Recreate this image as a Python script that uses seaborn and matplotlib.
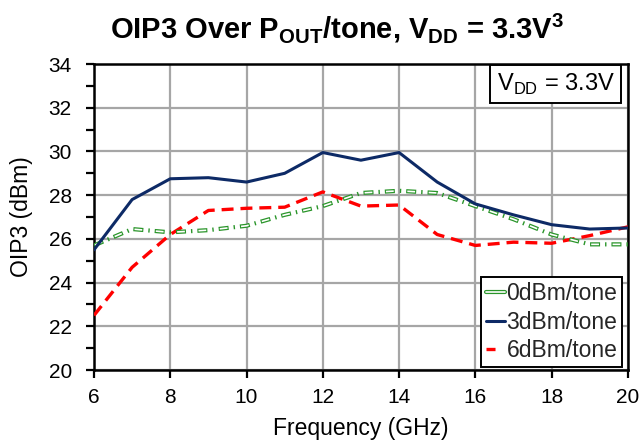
import matplotlib
matplotlib.use("Agg")
import matplotlib.pyplot as plt
from matplotlib.lines import Line2D
from matplotlib.ticker import MultipleLocator
import pandas as pd
import seaborn as sns

freq_ghz = [6, 7, 8, 9, 10, 11, 12, 13, 14, 15, 16, 17, 18, 19, 20]
oip3_0dbm = [25.7, 26.45, 26.3, 26.4, 26.6, 27.1, 27.5, 28.1, 28.2, 28.1, 27.5, 26.9, 26.2, 25.75, 25.75]
oip3_3dbm = [25.5, 27.8, 28.75, 28.8, 28.6, 29.0, 29.95, 29.6, 29.95, 28.6, 27.6, 27.1, 26.65, 26.45, 26.5]
oip3_6dbm = [22.5, 24.7, 26.2, 27.3, 27.4, 27.45, 28.15, 27.5, 27.55, 26.2, 25.7, 25.85, 25.8, 26.15, 26.55]
series_labels = ["0dBm/tone", "3dBm/tone", "6dBm/tone"]

sns.set_theme(style="white")
plt.rcParams["font.family"] = ["Liberation Sans", "DejaVu Sans"]
plt.rcParams["mathtext.fontset"] = "custom"
plt.rcParams["mathtext.rm"] = "Liberation Sans"
plt.rcParams["mathtext.bf"] = "Liberation Sans:bold"
plt.rcParams["lines.scale_dashes"] = False

df0 = pd.DataFrame({"f": freq_ghz, "v": oip3_0dbm})
df3 = pd.DataFrame({"f": freq_ghz, "v": oip3_3dbm})
df6 = pd.DataFrame({"f": freq_ghz, "v": oip3_6dbm})

fig = plt.figure(figsize=(6.42, 4.40), dpi=100)
ax = fig.add_axes([0.1464, 0.159, 0.8316, 0.6955])

navy = "#0d2a66"
green = "#2a952a"
red = "#ff0000"

# dash patterns in points
red_dash = (0, (8.6, 5.0))
green_dash = (0, (7.2, 3.6, 1.0, 3.6))
green_core = (14.6, (5.6, 9.8))

# 6 dBm/tone: red dashed
sns.lineplot(data=df6, x="f", y="v", ax=ax, color=red, linewidth=2.4, zorder=3)
ax.lines[-1].set_linestyle(red_dash)
# 0 dBm/tone: hollow dash-dot (green outline with white core)
sns.lineplot(data=df0, x="f", y="v", ax=ax, color=green, linewidth=3.0, zorder=4)
ax.lines[-1].set_linestyle(green_dash)
sns.lineplot(data=df0, x="f", y="v", ax=ax, color="white", linewidth=1.2, zorder=5)
ax.lines[-1].set_linestyle(green_core)
# 3 dBm/tone: navy solid
sns.lineplot(data=df3, x="f", y="v", ax=ax, color=navy, linewidth=2.2, zorder=6)

ax.set_xlim(6, 20)
ax.set_ylim(20, 34)
ax.xaxis.set_major_locator(MultipleLocator(2))
ax.yaxis.set_major_locator(MultipleLocator(2))
ax.yaxis.set_minor_locator(MultipleLocator(1))
ax.grid(True, which="major", color="#a6a6a6", linewidth=1.6)
ax.set_axisbelow(True)
for s in ax.spines.values():
    s.set_color("black")
    s.set_linewidth(1.8)
ax.tick_params(axis="both", which="major", direction="out", length=5.5, width=1.6,
               color="black", labelsize=15, labelcolor="black",
               bottom=True, left=True)
ax.tick_params(axis="x", which="major", pad=7.5)
ax.tick_params(axis="y", which="major", pad=10.5)
ax.tick_params(axis="y", which="minor", direction="out", length=5.5, width=1.6,
               color="black", left=True)

ax.set_xlabel("Frequency (GHz)", fontsize=16.5, color="black")
ax.set_ylabel("OIP3 (dBm)", fontsize=16.5, color="black")
ax.xaxis.set_label_coords(0.5, -0.152)
ax.yaxis.set_label_coords(-0.114, 0.5)

fig.text(0.525, 0.936, r"OIP3 Over P$_{\mathbf{OUT}}$/tone, V$_{\mathbf{DD}}$ = 3.3V$^{\mathbf{3}}$",
         ha="center", va="center", fontsize=21, fontweight="bold", color="black")

ax.text(0.975, 0.975, r"V$_{\mathrm{DD}}$ = 3.3V", transform=ax.transAxes,
        ha="right", va="top", fontsize=17, color="black",
        bbox=dict(boxstyle="square,pad=0.28", facecolor="white", edgecolor="black", linewidth=1.4))

h0 = (Line2D([], [], color=green, linewidth=3.0), Line2D([], [], color="white", linewidth=1.2))
h3 = Line2D([], [], color=navy, linewidth=2.2)
h6 = Line2D([], [], color=red, linewidth=2.4, linestyle=(0, (6.5, 20)))
leg = ax.legend([h0, h3, h6], series_labels, loc="lower right",
                bbox_to_anchor=(0.9888, 0.0098), fontsize=16.5,
                frameon=True, fancybox=False, framealpha=1, edgecolor="black",
                handlelength=0.85, handletextpad=0.05, borderpad=0.2,
                labelspacing=0.25, borderaxespad=0.0)
leg.get_frame().set_linewidth(1.4)

fig.savefig("out.png", dpi=100)
